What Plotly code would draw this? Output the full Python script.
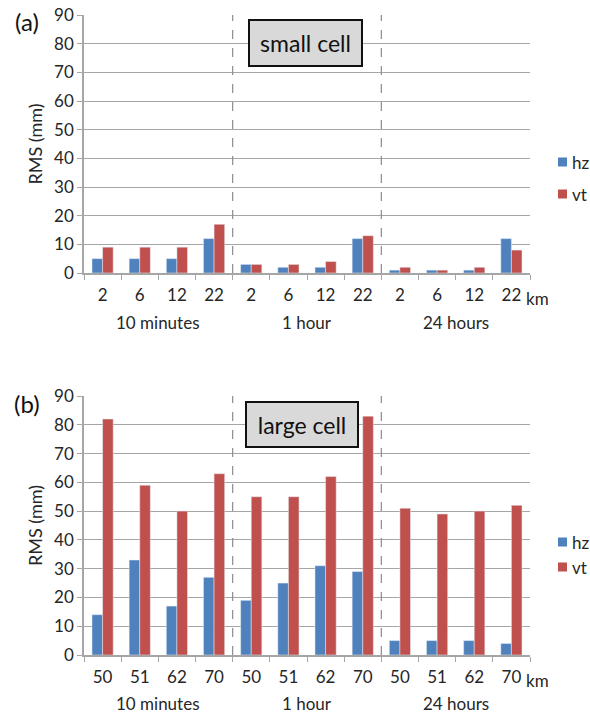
import plotly.graph_objects as go

groups = ["10 minutes", "1 hour", "24 hours"]
dist_small = ["2", "6", "12", "22"]
dist_large = ["50", "51", "62", "70"]
series_names = ["hz", "vt"]

small_hz = [5, 5, 5, 12, 3, 2, 2, 12, 1, 1, 1, 12]
small_vt = [9, 9, 9, 17, 3, 3, 4, 13, 2, 1, 2, 8]
large_hz = [14, 33, 17, 27, 19, 25, 31, 29, 5, 5, 5, 4]
large_vt = [82, 59, 50, 63, 55, 55, 62, 83, 51, 49, 50, 52]

BLUE = "#4F81BD"
RED = "#C0504D"
COLORS = [BLUE, RED]
FONT = "Lato"
GRID = "#a6a6a6"
TXT = "#262626"
W, H = 590, 715

n = len(groups) * len(dist_small)
xs = list(range(n))

fig = go.Figure()
panels = [
    ("x", "y", small_hz, small_vt),
    ("x2", "y2", large_hz, large_vt),
]
for xa, ya, hz, vt in panels:
    for name, vals, col in zip(series_names, [hz, vt], COLORS):
        fig.add_trace(go.Bar(x=xs, y=vals, name=name, marker_color=col, xaxis=xa, yaxis=ya,
                             showlegend=False))

domains = [(1 - 273 / H, 1 - 15 / H), (1 - 655 / H, 1 - 396 / H)]
xdom = [84 / W, 530 / W]


def xaxis_def(dist, dom_anchor):
    return dict(
        domain=xdom, anchor=dom_anchor, range=[-0.5, n - 0.5],
        tickmode="array", tickvals=xs, ticktext=dist * len(groups),
        ticks="outside", ticklen=6, tickcolor="rgba(0,0,0,0)",
        showline=True, linecolor=GRID, linewidth=1.5,
        showgrid=False, zeroline=False,
        tickfont=dict(family=FONT, size=17, color=TXT),
        minor=dict(tickmode="array", tickvals=[i - 0.5 for i in range(n + 1)],
                   ticks="outside", ticklen=5, tickcolor=GRID, showgrid=False),
    )


def yaxis_def(dom, anchor):
    return dict(
        domain=dom, anchor=anchor, range=[0, 90], dtick=10,
        showgrid=True, gridcolor=GRID, gridwidth=1.2,
        showline=True, linecolor=GRID, linewidth=1.5,
        ticks="outside", ticklen=5, tickcolor=GRID, zeroline=False,
        tickfont=dict(family=FONT, size=17, color=TXT),
        title=dict(text="RMS (mm)", font=dict(family=FONT, size=18, color=TXT), standoff=7),
    )


fig.update_layout(
    width=W, height=H,
    margin=dict(l=0, r=0, t=0, b=0, autoexpand=False),
    paper_bgcolor="white", plot_bgcolor="white",
    barmode="group", bargap=0.43, bargroupgap=0,
    xaxis=xaxis_def(dist_small, "y"),
    yaxis=yaxis_def(list(domains[0]), "x"),
    xaxis2=xaxis_def(dist_large, "y2"),
    yaxis2=yaxis_def(list(domains[1]), "x2"),
    showlegend=False,
)

shapes = []
annotations = []
per = len(dist_small)
for xa, ya in [("x", "y"), ("x2", "y2")]:
    for g in range(1, len(groups)):
        shapes.append(dict(type="line", xref=xa, yref=ya + " domain", x0=g * per - 0.5, x1=g * per - 0.5,
                           y0=0, y1=1, line=dict(color="#8c8c8c", width=1.2, dash="dash")))

group_y = [1 - 322 / H, 1 - 703 / H]
km_y = [1 - 298 / H, 1 - 680 / H]
for k, xa in enumerate(["x", "x2"]):
    for g, name in enumerate(groups):
        annotations.append(dict(text=name, xref=xa, yref="paper", x=g * per + (per - 1) / 2, y=group_y[k],
                                showarrow=False, xanchor="center", yanchor="middle",
                                font=dict(family=FONT, size=17, color=TXT)))
    annotations.append(dict(text="km", xref="paper", yref="paper", x=537 / W, y=km_y[k],
                            showarrow=False, xanchor="center", yanchor="middle",
                            font=dict(family=FONT, size=17, color=TXT)))

# legend (one per panel)
legend_rows = [[162, 194], [542, 567]]
for rows in legend_rows:
    for name, col, yc in zip(series_names, COLORS, rows):
        shapes.append(dict(type="rect", xref="paper", yref="paper",
                           x0=558 / W, x1=567 / W, y0=1 - (yc + 4.5) / H, y1=1 - (yc - 4.5) / H,
                           fillcolor=col, line=dict(width=0)))
        annotations.append(dict(text=name, xref="paper", yref="paper", x=570 / W, y=1 - yc / H,
                                xanchor="left", yanchor="middle", showarrow=False,
                                font=dict(family=FONT, size=17, color=TXT)))

annotations.append(dict(text="(a)", xref="paper", yref="paper", x=27 / W, y=1 - 21 / H,
                        xanchor="center", yanchor="middle",
                        showarrow=False, font=dict(family=FONT, size=24, color="#111")))
annotations.append(dict(text="(b)", xref="paper", yref="paper", x=27 / W, y=1 - 403 / H,
                        xanchor="center", yanchor="middle",
                        showarrow=False, font=dict(family=FONT, size=24, color="#111")))

annotations.append(dict(text="small cell", xref="paper", yref="paper", x=305.5 / W, y=1 - 43 / H,
                        xanchor="center", yanchor="middle",
                        showarrow=False, width=111, height=44, bgcolor="#d9d9d9", bordercolor="#111",
                        borderwidth=2, borderpad=0,
                        font=dict(family=FONT, size=23, color="#111")))
annotations.append(dict(text="large cell", xref="paper", yref="paper", x=302 / W, y=1 - 424.5 / H,
                        xanchor="center", yanchor="middle",
                        showarrow=False, width=110, height=43, bgcolor="#d9d9d9", bordercolor="#111",
                        borderwidth=2, borderpad=0,
                        font=dict(family=FONT, size=23, color="#111")))

fig.update_layout(shapes=shapes, annotations=annotations)
fig.write_html("out.html", config={"displayModeBar": False},
               post_script="document.body.style.margin='0px';")
